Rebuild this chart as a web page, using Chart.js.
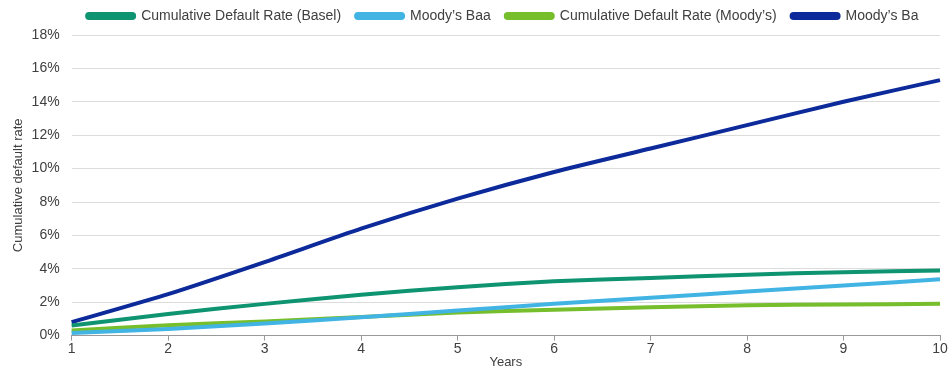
<!DOCTYPE html>
<html>
<head>
<meta charset="utf-8">
<script src="https://cdn.jsdelivr.net/npm/chart.js@4"></script>
<style>
  html, body { margin: 0; padding: 0; background: #fff; }
  #wrap { width: 951px; height: 368px; position: relative; }
</style>
</head>
<body>
<div id="wrap"><canvas id="c" width="951" height="368"></canvas></div>
<script>
// Horizon in years
const years = ["1", "2", "3", "4", "5", "6", "7", "8", "9", "10"];

// Cumulative default rates, %
const baselRate   = [0.6, 1.3, 1.9, 2.45, 2.9, 3.25, 3.45, 3.65, 3.8, 3.9];
const moodysBaa   = [0.15, 0.4, 0.72, 1.1, 1.5, 1.9, 2.26, 2.64, 3.0, 3.37];
const moodysRate  = [0.3, 0.62, 0.85, 1.12, 1.38, 1.55, 1.7, 1.82, 1.86, 1.9];
const moodysBa    = [0.8, 2.48, 4.4, 6.4, 8.2, 9.8, 11.2, 12.6, 14.0, 15.3];

const seriesNames = [
  "Cumulative Default Rate (Basel)",
  "Moody\u2019s Baa",
  "Cumulative Default Rate (Moody\u2019s)",
  "Moody\u2019s Ba"
];

const yTicks = [0, 2, 4, 6, 8, 10, 12, 14, 16, 18];

const colors = ["#0E9470", "#41B4E3", "#76BE2C", "#0C2A9A"];
const values = [baselRate, moodysBaa, moodysRate, moodysBa];

const FONT = "'Liberation Sans', Arial, sans-serif";
const TEXT = "#404040";

// Compact legend band, centred over the plot area rather than the canvas
const legendBand = {
  id: "legendBand",
  beforeInit(chart) {
    const lg = chart.legend;
    if (!lg) return;
    const fit = lg.fit;
    lg.fit = function () {
      fit.call(this);
      this.height = 41;
    };
  },
  afterLayout(chart) {
    const lg = chart.legend;
    const ca = chart.chartArea;
    if (!lg || !ca) return;
    const shift = (ca.left + ca.right) / 2 - (lg.left + lg.right) / 2 - 3;
    lg.left += shift;
    lg.right += shift;
  }
};

new Chart(document.getElementById("c"), {
  type: "line",
  data: {
    labels: years,
    datasets: values.map((v, i) => ({
      label: seriesNames[i],
      data: v,
      borderColor: colors[i],
      backgroundColor: colors[i],
      borderWidth: 4,
      pointRadius: 0,
      tension: 0.2,
      fill: false
    }))
  },
  plugins: [legendBand],
  options: {
    responsive: false,
    animation: false,
    layout: { padding: { left: 11, right: 11, top: -6, bottom: -2 } },
    plugins: {
      legend: {
        position: "top",
        align: "center",
        labels: {
          font: { family: FONT, size: 14 },
          color: TEXT,
          boxWidth: 47,
          boxHeight: 4,
          padding: 15,
          useBorderRadius: true,
          borderRadius: 2
        }
      },
      tooltip: { enabled: false }
    },
    scales: {
      x: {
        offset: false,
        title: {
          display: true,
          text: "Years",
          font: { family: FONT, size: 13 },
          color: TEXT,
          padding: { top: -3, bottom: 0 }
        },
        grid: { drawOnChartArea: false, drawTicks: true, tickLength: 5, color: "#999" },
        border: { display: true, color: "#999", width: 1 },
        ticks: { font: { family: FONT, size: 14 }, color: TEXT, maxRotation: 0, padding: 0 }
      },
      y: {
        min: 0,
        max: 18,
        afterBuildTicks: (axis) => { axis.ticks = yTicks.map(v => ({ value: v })); },
        title: {
          display: true,
          text: "Cumulative default rate",
          font: { family: FONT, size: 13 },
          color: TEXT,
          padding: { top: 0, bottom: -7 }
        },
        grid: { color: "#dcdcdc", drawTicks: false },
        border: { display: false },
        ticks: {
          font: { family: FONT, size: 14 },
          color: TEXT,
          padding: 12,
          callback: (v) => v + "%"
        }
      }
    }
  }
});
</script>
</body>
</html>
